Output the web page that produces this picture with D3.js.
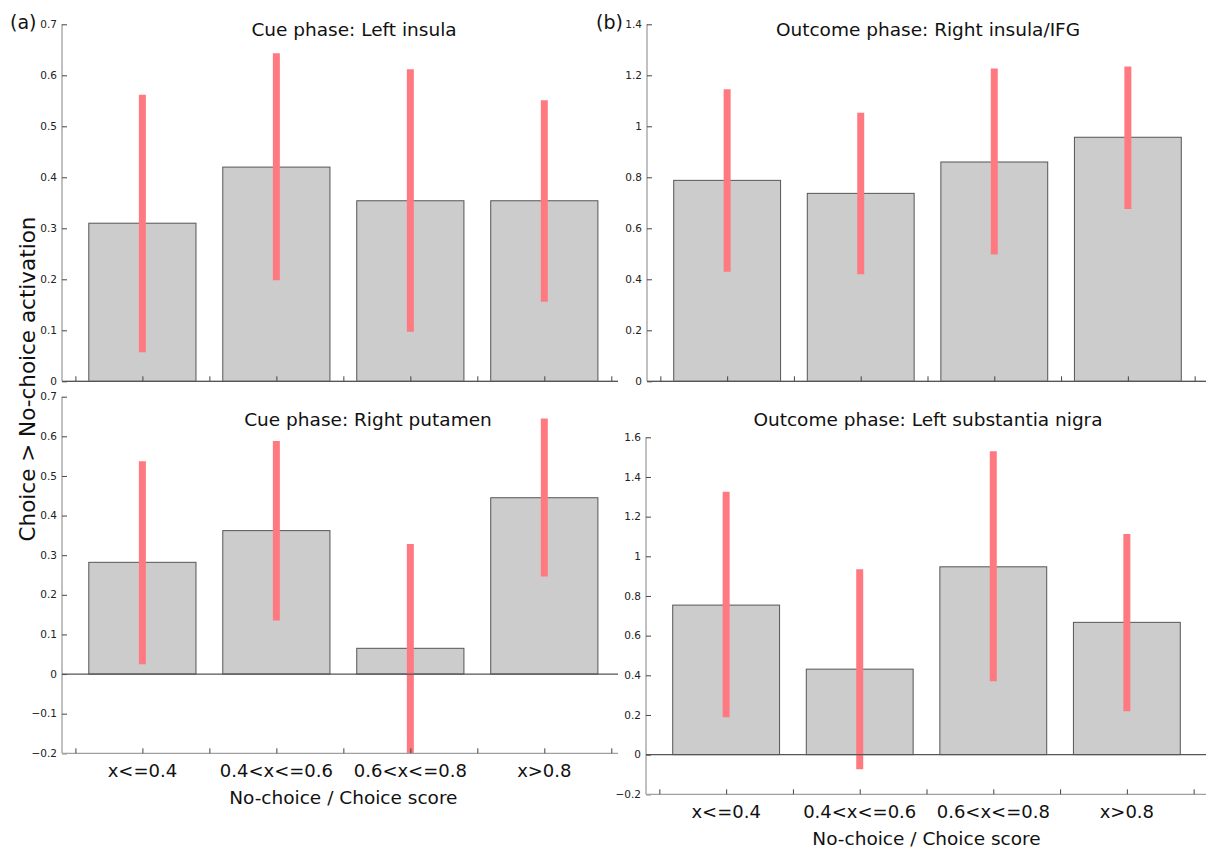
<!DOCTYPE html>
<html>
<head>
<meta charset="utf-8">
<script src="https://cdn.jsdelivr.net/npm/d3@7"></script>
<style>
  body { margin: 0; background: #fff; }
  svg { font-family: "DejaVu Sans", sans-serif; }
</style>
</head>
<body>
<svg id="chart" width="1206" height="852"></svg>
<script>
// categories on the x axis
var categories = ["x<=0.4", "0.4<x<=0.6", "0.6<x<=0.8", "x>0.8"];
var xTicks = [0.5, 1, 1.5, 2, 2.5, 3, 3.5, 4, 4.5];

// (a) cue phase, left insula
var cueInsulaMean = [0.31, 0.42, 0.354, 0.354];
var cueInsulaLow  = [0.057, 0.198, 0.097, 0.156];
var cueInsulaHigh = [0.562, 0.643, 0.612, 0.551];
// (a) cue phase, right putamen
var cuePutamenMean = [0.282, 0.362, 0.065, 0.445];
var cuePutamenLow  = [0.025, 0.135, -0.2, 0.246];
var cuePutamenHigh = [0.537, 0.588, 0.328, 0.645];
// (b) outcome phase, right insula/IFG
var outInsulaMean = [0.788, 0.737, 0.86, 0.957];
var outInsulaLow  = [0.43, 0.42, 0.497, 0.676];
var outInsulaHigh = [1.145, 1.053, 1.227, 1.235];
// (b) outcome phase, left substantia nigra
var outNigraMean = [0.754, 0.431, 0.947, 0.667];
var outNigraLow  = [0.188, -0.074, 0.37, 0.219];
var outNigraHigh = [1.325, 0.935, 1.53, 1.112];

var yTicksCueTop = [0, 0.1, 0.2, 0.3, 0.4, 0.5, 0.6, 0.7];
var yTicksCueBottom = [-0.2, -0.1, 0, 0.1, 0.2, 0.3, 0.4, 0.5, 0.6, 0.7];
var yTicksOutTop = [0, 0.2, 0.4, 0.6, 0.8, 1, 1.2, 1.4];
var yTicksOutBottom = [-0.2, 0, 0.2, 0.4, 0.6, 0.8, 1, 1.2, 1.4, 1.6];

var panels = [
  {id: "tl", title: "Cue phase: Left insula", tx: 354, ty: 30,
   x0: 62, x1: 618, xdom: [0.4, 4.55], y0: 24.3, y1: 381.3, ydom: [0, 0.7],
   ticks: yTicksCueTop, mean: cueInsulaMean, low: cueInsulaLow, high: cueInsulaHigh, labels: false},
  {id: "bl", title: "Cue phase: Right putamen", tx: 368, ty: 420,
   x0: 62, x1: 618, xdom: [0.4, 4.55], y0: 396.7, y1: 753.3, ydom: [-0.2, 0.7],
   ticks: yTicksCueBottom, mean: cuePutamenMean, low: cuePutamenLow, high: cuePutamenHigh, labels: true},
  {id: "tr", title: "Outcome phase: Right insula/IFG", tx: 928, ty: 30,
   x0: 647, x1: 1208, xdom: [0.4, 4.6], y0: 24.3, y1: 381.3, ydom: [0, 1.4],
   ticks: yTicksOutTop, mean: outInsulaMean, low: outInsulaLow, high: outInsulaHigh, labels: false},
  {id: "br", title: "Outcome phase: Left substantia nigra", tx: 928, ty: 420,
   x0: 646, x1: 1207, xdom: [0.4, 4.6], y0: 437.3, y1: 794.3, ydom: [-0.2, 1.6],
   ticks: yTicksOutBottom, mean: outNigraMean, low: outNigraLow, high: outNigraHigh, labels: true}
];

var svg = d3.select("#chart");
var defs = svg.append("defs");
var fmt = d3.format("~g");

panels.forEach(function(p) {
  var x = d3.scaleLinear().domain(p.xdom).range([p.x0, p.x1]);
  var y = d3.scaleLinear().domain(p.ydom).range([p.y1, p.y0]);
  var g = svg.append("g").attr("class", "panel " + p.id);

  defs.append("clipPath").attr("id", "clip-" + p.id)
    .append("rect")
    .attr("x", p.x0).attr("y", p.y0)
    .attr("width", p.x1 - p.x0).attr("height", p.y1 - p.y0);

  var plot = g.append("g").attr("clip-path", "url(#clip-" + p.id + ")");

  // bars
  plot.selectAll("rect.bar")
    .data(p.mean)
    .enter().append("rect")
    .attr("class", "bar")
    .attr("x", function(d, i) { return x(i + 1 - 0.4); })
    .attr("width", function() { return x(1.4) - x(0.6); })
    .attr("y", function(d) { return y(Math.max(d, 0)); })
    .attr("height", function(d) { return Math.abs(y(d) - y(0)); })
    .attr("fill", "#cccccc")
    .attr("stroke", "#555")
    .attr("stroke-width", 1);

  // y axis
  var yAxis = g.append("g")
    .attr("transform", "translate(" + p.x0 + ",0)")
    .call(d3.axisRight(y).tickValues(p.ticks).tickSize(5).tickFormat(""));
  yAxis.select(".domain").attr("stroke", "#a0a0a0").attr("stroke-width", 1.3)
    .attr("d", "M0," + p.y0 + "V" + p.y1);
  yAxis.selectAll(".tick line").attr("stroke", "#444");

  g.selectAll("text.ytick")
    .data(p.ticks)
    .enter().append("text")
    .attr("class", "ytick")
    .attr("x", p.x0 - 5)
    .attr("y", function(d) { return y(d); })
    .attr("dy", "0.35em")
    .attr("text-anchor", "end")
    .attr("font-size", "10.5px")
    .attr("fill", "#222")
    .text(function(d) { return fmt(d); });

  // x axis
  var xAxis = g.append("g")
    .attr("transform", "translate(0," + p.y1 + ")")
    .call(d3.axisTop(x).tickValues(xTicks).tickSize(5).tickFormat(""));
  xAxis.select(".domain").attr("stroke", "#a0a0a0").attr("stroke-width", 1.3)
    .attr("d", "M" + p.x0 + ",0H" + p.x1);
  xAxis.selectAll(".tick line").attr("stroke", "#444");

  // baseline at zero
  g.append("line")
    .attr("x1", p.x0).attr("x2", p.x1)
    .attr("y1", y(0)).attr("y2", y(0))
    .attr("stroke", "#555").attr("stroke-width", 1.2);

  // error bars
  plot.selectAll("line.err")
    .data(p.mean)
    .enter().append("line")
    .attr("class", "err")
    .attr("x1", function(d, i) { return x(i + 1); })
    .attr("x2", function(d, i) { return x(i + 1); })
    .attr("y1", function(d, i) { return y(p.low[i]); })
    .attr("y2", function(d, i) { return y(p.high[i]); })
    .attr("stroke", "#ff7a80")
    .attr("stroke-width", 7);

  // title
  g.append("text")
    .attr("x", p.tx).attr("y", p.ty)
    .attr("dy", "0.35em")
    .attr("text-anchor", "middle")
    .attr("font-size", "18.5px")
    .attr("fill", "#111")
    .text(p.title);

  if (p.labels) {
    g.selectAll("text.xtick")
      .data(categories)
      .enter().append("text")
      .attr("class", "xtick")
      .attr("x", function(d, i) { return x(i + 1); })
      .attr("y", p.y1 + 17)
      .attr("dy", "0.35em")
      .attr("text-anchor", "middle")
      .attr("font-size", "18px")
      .attr("fill", "#111")
      .text(function(d) { return d; });

    g.append("text")
      .attr("x", (x(1) + x(4)) / 2)
      .attr("y", p.y1 + 44)
      .attr("dy", "0.35em")
      .attr("text-anchor", "middle")
      .attr("font-size", "18.5px")
      .attr("fill", "#111")
      .text("No-choice / Choice score");
  }
});

// panel letters
svg.append("text").attr("x", 10).attr("y", 22).attr("dy", "0.35em")
  .attr("font-size", "19px").attr("fill", "#111").text("(a)");
svg.append("text").attr("x", 596).attr("y", 22).attr("dy", "0.35em")
  .attr("font-size", "19px").attr("fill", "#111").text("(b)");

// shared y label
svg.append("text")
  .attr("transform", "translate(27,379) rotate(-90)")
  .attr("dy", "0.35em")
  .attr("text-anchor", "middle")
  .attr("font-size", "21.5px")
  .attr("fill", "#111")
  .text("Choice > No-choice activation");
</script>
</body>
</html>
